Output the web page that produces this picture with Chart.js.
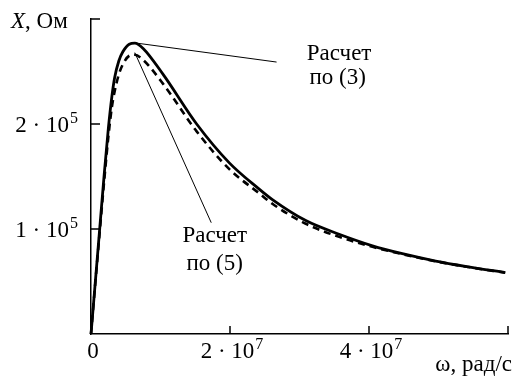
<!DOCTYPE html>
<html>
<head>
<meta charset="utf-8">
<script src="https://cdn.jsdelivr.net/npm/chart.js@4.4.1/dist/chart.umd.min.js"></script>
<style>
  html, body { margin: 0; padding: 0; background: #fff; }
  #wrap { width: 517px; height: 376px; }
</style>
</head>
<body>
<div id="wrap"><canvas id="chart" width="517" height="376"></canvas></div>
<script>
// частоты, 10^7 рад/с
const omega = [0, 0.125, 0.19, 0.25, 0.30, 0.34, 0.40, 0.46, 0.55, 0.63, 0.75, 1.04, 1.52, 1.99, 2.42, 2.61, 3.09, 3.57, 4.05, 4.48, 4.96, 5.43, 5.96];
// расчет по (3), 10^5 Ом
const xCalc3 = [0, 1.0, 1.52, 1.96, 2.26, 2.44, 2.60, 2.69, 2.76, 2.77, 2.72, 2.47, 2.00, 1.63, 1.38, 1.28, 1.08, 0.95, 0.84, 0.765, 0.695, 0.64, 0.585];
// расчет по (5), 10^5 Ом
const xCalc5 = [0, 0.97, 1.46, 1.88, 2.16, 2.31, 2.47, 2.57, 2.65, 2.66, 2.61, 2.38, 1.93, 1.57, 1.34, 1.24, 1.05, 0.925, 0.83, 0.76, 0.692, 0.638, 0.583];

const xTicks = [0, 2, 4, 6];
const yTicks = [0, 1, 2, 3];
// [основание, степень]
const xTickLabels = [['0', ''], ['2 · 10', '7'], ['4 · 10', '7'], ['', '']];
const yTickLabels = [['', ''], ['1 · 10', '5'], ['2 · 10', '5'], ['', '']];

// подписи-выноски: [текст, x, y] в единицах данных
const notes3 = [['Расчет', 3.57, 2.67], ['по (3)', 3.55, 2.44]];
const notes5 = [['Расчет', 1.78, 0.93], ['по (5)', 1.78, 0.67]];
// линии выносок: от пика к тексту
const leader3 = [[0.66, 2.77], [2.67, 2.59]];
const leader5 = [[0.63, 2.68], [1.73, 1.06]];

const FONT = '"Liberation Serif", "DejaVu Serif", serif';
const SIZE = 23;
const SUP = 16;

const toPts = (xs, ys) => xs.map((v, i) => ({ x: v * 1e7, y: ys[i] * 1e5 }));

function drawPow(ctx, base, pow, cx, cy, align) {
  ctx.font = SIZE + 'px ' + FONT;
  const wb = ctx.measureText(base).width;
  ctx.font = SUP + 'px ' + FONT;
  const wp = pow ? ctx.measureText(pow).width + 1 : 0;
  const total = wb + wp;
  let left = cx - total / 2;
  if (align === 'right') left = cx - total;
  ctx.textAlign = 'left';
  ctx.textBaseline = 'alphabetic';
  ctx.font = SIZE + 'px ' + FONT;
  ctx.fillText(base, left, cy + 8);
  if (pow) {
    ctx.font = SUP + 'px ' + FONT;
    ctx.fillText(pow, left + wb + 1, cy - 1);
  }
}

const overlay = {
  id: 'overlay',
  afterDraw(chart) {
    const { ctx, scales: { x, y }, chartArea } = chart;
    ctx.save();
    ctx.strokeStyle = '#000';
    ctx.lineWidth = 1.5;
    // засечки внутрь
    ctx.beginPath();
    xTicks.slice(1).forEach(t => {
      const px = x.getPixelForValue(t * 1e7);
      ctx.moveTo(px, chartArea.bottom);
      ctx.lineTo(px, chartArea.bottom - 8);
    });
    yTicks.slice(1).forEach(t => {
      const py = y.getPixelForValue(t * 1e5);
      ctx.moveTo(chartArea.left, py);
      ctx.lineTo(chartArea.left + 9, py);
    });
    ctx.stroke();

    // подписи делений
    ctx.fillStyle = '#000';
    xTicks.forEach((t, i) => {
      const [b, p] = xTickLabels[i];
      if (b) drawPow(ctx, b, p, x.getPixelForValue(t * 1e7) + 2, chartArea.bottom + 16, 'center');
    });
    yTicks.forEach((t, i) => {
      const [b, p] = yTickLabels[i];
      if (b) drawPow(ctx, b, p, chartArea.left - 13, y.getPixelForValue(t * 1e5), 'right');
    });

    // выноски
    ctx.lineWidth = 1;
    [leader3, leader5].forEach(l => {
      ctx.beginPath();
      ctx.moveTo(x.getPixelForValue(l[0][0] * 1e7), y.getPixelForValue(l[0][1] * 1e5));
      ctx.lineTo(x.getPixelForValue(l[1][0] * 1e7), y.getPixelForValue(l[1][1] * 1e5));
      ctx.stroke();
    });

    ctx.font = SIZE + 'px ' + FONT;
    ctx.textAlign = 'center';
    ctx.textBaseline = 'middle';
    notes3.concat(notes5).forEach(([t, vx, vy]) => {
      ctx.fillText(t, x.getPixelForValue(vx * 1e7), y.getPixelForValue(vy * 1e5));
    });

    // подписи осей
    ctx.textAlign = 'left';
    ctx.font = 'italic ' + SIZE + 'px ' + FONT;
    ctx.fillText('X', 11, 22);
    const w = ctx.measureText('X').width;
    ctx.font = SIZE + 'px ' + FONT;
    ctx.fillText(', Ом', 11 + w, 22);
    ctx.textAlign = 'right';
    ctx.fillText('ω, рад/с', 512, 365);
    ctx.restore();
  }
};

new Chart(document.getElementById('chart'), {
  type: 'line',
  data: {
    datasets: [
      {
        label: 'Расчет по (3)',
        data: toPts(omega, xCalc3),
        borderColor: '#000',
        borderWidth: 2.8,
        pointRadius: 0,
        cubicInterpolationMode: 'monotone',
        fill: false,
        clip: false
      },
      {
        label: 'Расчет по (5)',
        data: toPts(omega, xCalc5),
        borderColor: '#000',
        borderWidth: 2.6,
        borderDash: [7, 5],
        pointRadius: 0,
        cubicInterpolationMode: 'monotone',
        fill: false,
        clip: false
      }
    ]
  },
  options: {
    responsive: false,
    animation: false,
    layout: { padding: { top: 19, right: 9, left: 0, bottom: 0 } },
    plugins: { legend: { display: false }, tooltip: { enabled: false } },
    scales: {
      x: {
        type: 'linear',
        min: 0,
        max: 6e7,
        afterBuildTicks: s => { s.ticks = xTicks.map(v => ({ value: v * 1e7 })); },
        afterFit: s => { s.height = 42; },
        grid: { display: false, drawTicks: false },
        border: { display: true, color: '#000', width: 1.5 },
        ticks: { display: false }
      },
      y: {
        type: 'linear',
        min: 0,
        max: 3e5,
        afterBuildTicks: s => { s.ticks = yTicks.map(v => ({ value: v * 1e5 })); },
        afterFit: s => { s.width = 91; },
        grid: { display: false, drawTicks: false },
        border: { display: true, color: '#000', width: 1.5 },
        ticks: { display: false }
      }
    }
  },
  plugins: [overlay]
});
</script>
</body>
</html>
